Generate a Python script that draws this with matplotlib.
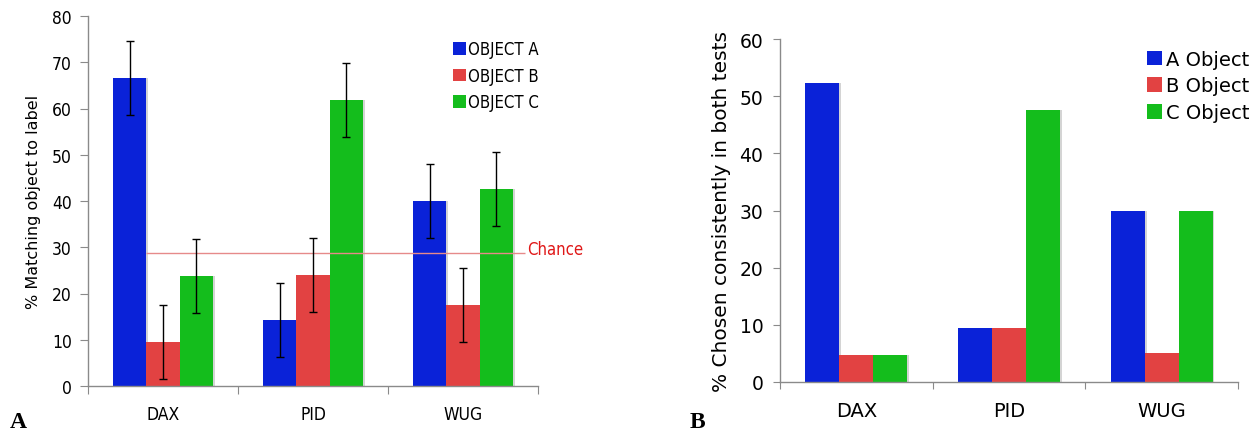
import matplotlib
matplotlib.use("Agg")
import matplotlib.pyplot as plt
import numpy as np

categories = ["DAX", "PID", "WUG"]

# Panel A
left_labels = ["OBJECT A", "OBJECT B", "OBJECT C"]
left_A = [66.5, 14.3, 40.0]
left_B = [9.5, 24.0, 17.5]
left_C = [23.8, 61.8, 42.5]
left_errA = [8.0, 8.0, 8.0]
left_errB = [8.0, 8.0, 8.0]
left_errC = [8.0, 8.0, 8.0]
chance = 28.8

# Panel B
right_labels = ["A Object", "B Object", "C Object"]
right_A = [52.3, 9.5, 30.0]
right_B = [4.7, 9.5, 5.0]
right_C = [4.7, 47.5, 30.0]

colors = ["#0a22d8", "#e24242", "#14bd1c"]
W, H = 1257, 431

fig = plt.figure(figsize=(W / 100, H / 100), dpi=100)

def rect(x0, y0, x1, y1):
    return [x0 / W, 1 - y1 / H, (x1 - x0) / W, (y1 - y0) / H]

axL = fig.add_axes(rect(88, 17, 538, 387))
axR = fig.add_axes(rect(780, 40, 1238, 383))

bw = 0.222
x = np.arange(len(categories))
cond = dict(family="DejaVu Sans", fontstretch="condensed")

def style(ax, ymax, ystep, fs, fsx, tickfont, ypad, tlen):
    for s in ["top", "right"]:
        ax.spines[s].set_visible(False)
    for s in ["left", "bottom"]:
        ax.spines[s].set_color("#8a8a8a")
        ax.spines[s].set_linewidth(1.0)
    ax.set_xlim(-0.5, len(categories) - 0.5)
    ax.set_ylim(0, ymax)
    ax.set_yticks(np.arange(0, ymax + 1, ystep))
    ax.set_xticks(np.arange(-0.5, len(categories), 1.0))
    ax.set_xticklabels([])
    ax.set_xticks(x, minor=True)
    ax.set_xticklabels(categories, minor=True, fontsize=fsx, **tickfont)
    ax.tick_params(axis="x", which="minor", length=0, pad=14)
    ax.tick_params(axis="x", which="major", length=tlen, color="#8a8a8a", direction="out")
    ax.tick_params(axis="y", length=tlen, color="#8a8a8a", direction="out", labelsize=fs, pad=ypad)
    for t in ax.get_yticklabels():
        t.set_fontfamily(tickfont.get("family", "DejaVu Sans"))
        if "fontstretch" in tickfont:
            t.set_fontstretch(tickfont["fontstretch"])

# ---- Panel A
series_L = [left_A, left_B, left_C]
errs_L = [left_errA, left_errB, left_errC]
handlesL = []
for i, (vals, err) in enumerate(zip(series_L, errs_L)):
    pos = x + (i - 1) * bw
    axL.bar(pos + 0.012, vals, bw, color="#d4d4d4", zorder=1)
    b = axL.bar(pos, vals, bw, color=colors[i], zorder=2, label=left_labels[i])
    handlesL.append(b)
    axL.errorbar(pos, vals, yerr=err, fmt="none", ecolor="black",
                 elinewidth=1.0, capsize=3, capthick=1.0, zorder=4)
axL.hlines(chance, x[0] - bw / 2, x[-1] + 1.5 * bw + 0.08, color="#e68a8a",
           linewidth=1.0, zorder=3)
axL.text(x[-1] + 1.5 * bw + 0.095, chance + 0.9, "Chance", color="#e01818",
         fontsize=12, va="center", ha="left", **cond)
style(axL, 80, 10, 12.5, 12.5, cond, 5.5, 6)
axL.set_ylabel("% Matching object to label", fontsize=11.5, labelpad=8,
               family="DejaVu Sans")
legL = axL.legend(handles=handlesL, loc="upper left",
                  bbox_to_anchor=(445 / W, 1 - 33 / H), bbox_transform=fig.transFigure,
                  frameon=False, borderpad=0, handlelength=0.75, handleheight=0.8,
                  handletextpad=0.15, labelspacing=0.5,
                  prop=dict(size=12, family="DejaVu Sans", stretch="condensed"))

# ---- Panel B
series_R = [right_A, right_B, right_C]
handlesR = []
for i, vals in enumerate(series_R):
    pos = x + (i - 1) * bw
    axR.bar(pos + 0.012, vals, bw, color="#d4d4d4", zorder=1)
    b = axR.bar(pos, vals, bw, color=colors[i], zorder=2, label=right_labels[i])
    handlesR.append(b)
style(axR, 60, 10, 13.5, 14, dict(family="DejaVu Sans"), 7, 5)
axR.set_ylabel("% Chosen consistently in both tests", fontsize=14.5, labelpad=6)
legR = axR.legend(handles=handlesR, loc="upper left",
                  bbox_to_anchor=(1137 / W, 1 - 41 / H), bbox_transform=fig.transFigure,
                  frameon=False, borderpad=0, handlelength=0.8, handleheight=0.8,
                  handletextpad=0.2, labelspacing=0.4,
                  prop=dict(size=14, family="DejaVu Sans"))

# panel letters
fig.text(10 / W, 1 - 428 / H, "A", fontsize=17, fontweight="bold",
         family="Liberation Serif", ha="left", va="baseline")
fig.text(690 / W, 1 - 428 / H, "B", fontsize=17, fontweight="bold",
         family="Liberation Serif", ha="left", va="baseline")

fig.savefig("out.png", dpi=100, facecolor="white")
